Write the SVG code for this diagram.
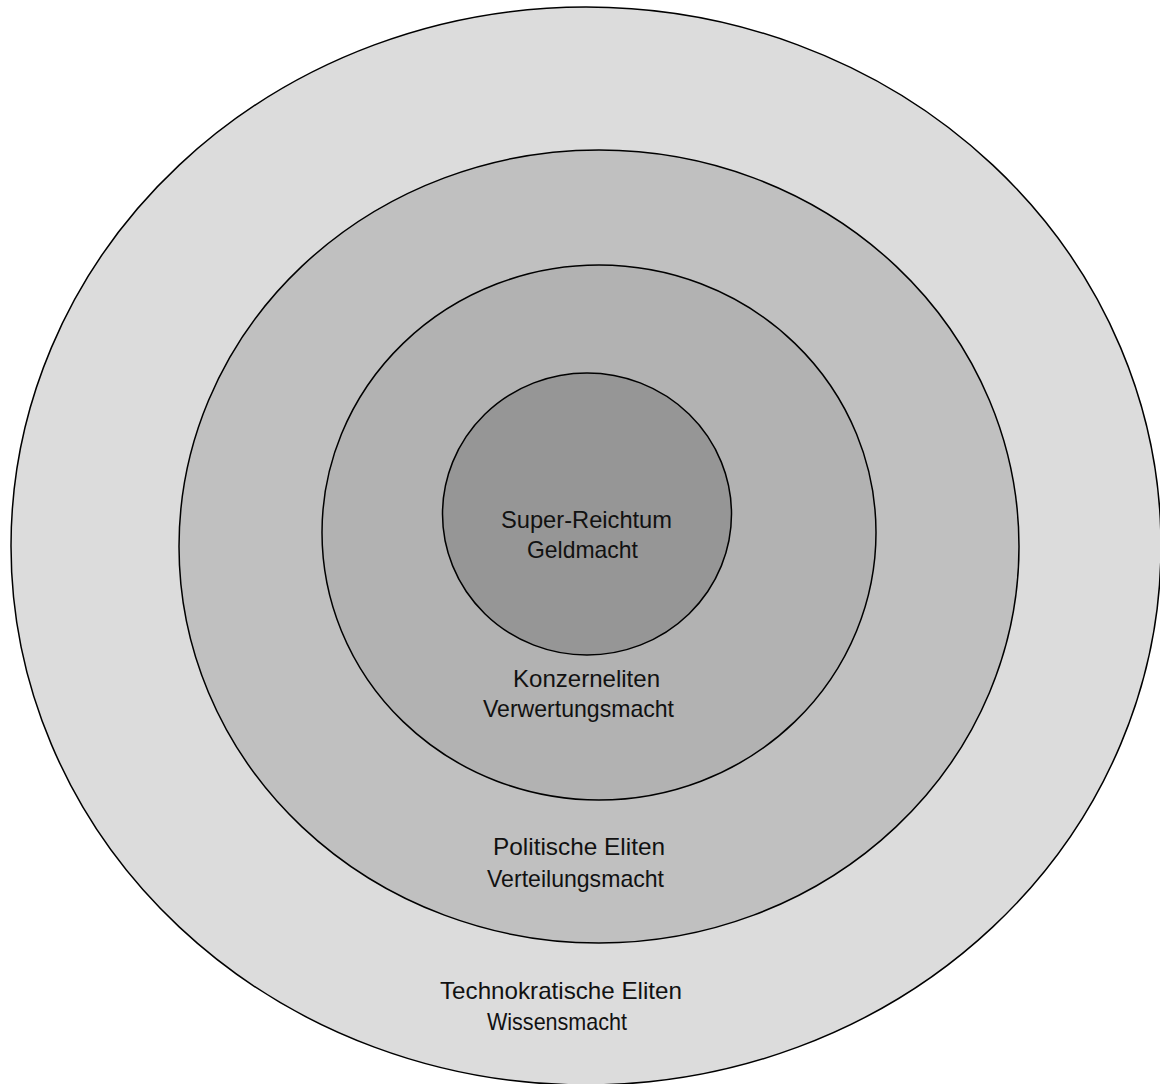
<svg xmlns="http://www.w3.org/2000/svg" width="1160" height="1084" viewBox="0 0 1160 1084">
<style>
.ring{stroke:#000;stroke-width:1.5}
.lbl{font-family:"Liberation Sans",Arial,sans-serif;font-size:24px;fill:#111}
</style>
<rect width="1160" height="1084" fill="#fff"/>
<g id="technokratische">
<ellipse class="ring" cx="586" cy="546" rx="575" ry="539" fill="#dcdcdc"/>
</g>
<g id="politische">
<ellipse class="ring" cx="599" cy="546.5" rx="420" ry="396.5" fill="#c0c0c0"/>
</g>
<g id="konzern">
<ellipse class="ring" cx="599" cy="532.5" rx="277" ry="267.5" fill="#b2b2b2"/>
</g>
<g id="super">
<ellipse class="ring" cx="587" cy="514" rx="144.5" ry="141" fill="#969696"/>
</g>
<g id="labels">
<text class="lbl" x="501" y="528" textLength="171" lengthAdjust="spacingAndGlyphs">Super-Reichtum</text>
<text class="lbl" x="527" y="558" textLength="111" lengthAdjust="spacingAndGlyphs">Geldmacht</text>
<text class="lbl" x="513" y="687" textLength="147" lengthAdjust="spacingAndGlyphs">Konzerneliten</text>
<text class="lbl" x="483" y="717" textLength="191" lengthAdjust="spacingAndGlyphs">Verwertungsmacht</text>
<text class="lbl" x="493" y="855" textLength="172" lengthAdjust="spacingAndGlyphs">Politische Eliten</text>
<text class="lbl" x="487" y="887" textLength="177" lengthAdjust="spacingAndGlyphs">Verteilungsmacht</text>
<text class="lbl" x="440" y="999" textLength="242" lengthAdjust="spacingAndGlyphs">Technokratische Eliten</text>
<text class="lbl" x="487" y="1030" textLength="140" lengthAdjust="spacingAndGlyphs">Wissensmacht</text>
</g>
</svg>
